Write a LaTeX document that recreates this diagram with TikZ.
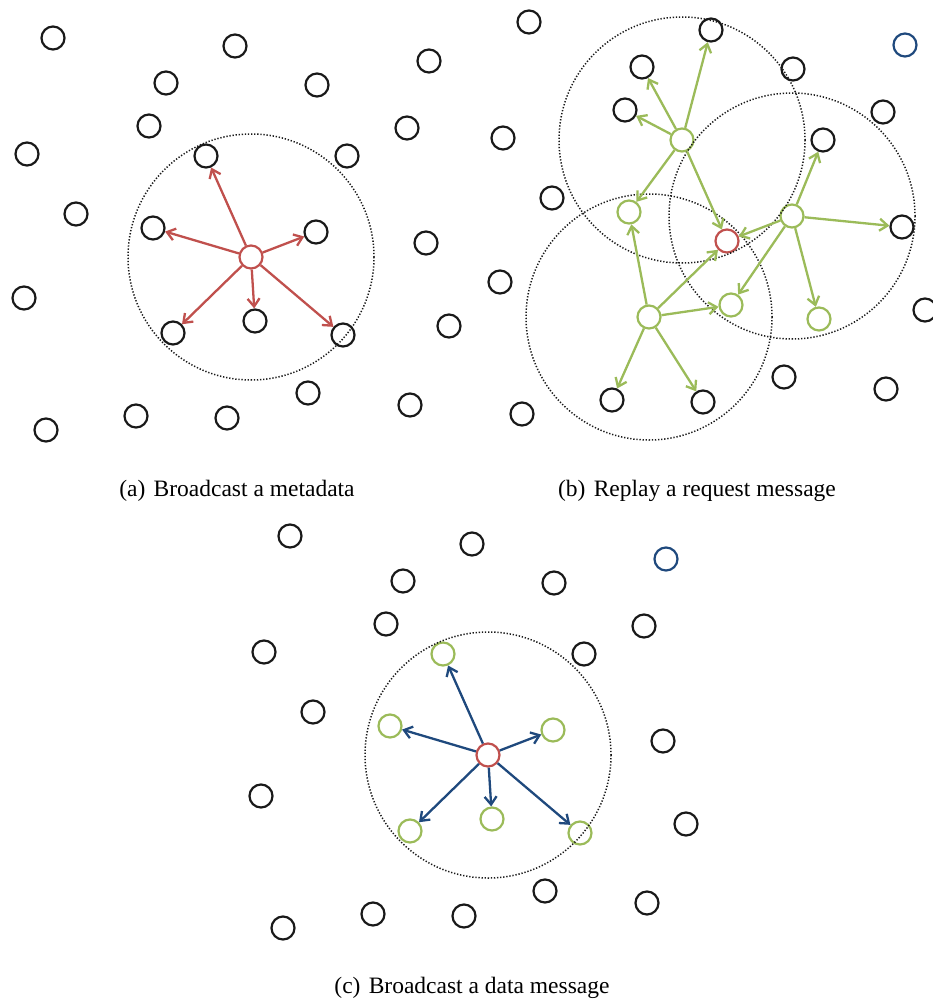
\documentclass[tikz,border=0pt]{standalone}
\usepackage{fontspec}
\setmainfont{Liberation Serif}
\usepackage{xcolor}
\definecolor{hopred}{RGB}{192,80,77}
\definecolor{hopgreen}{RGB}{155,187,89}
\definecolor{hopblue}{RGB}{31,73,125}
\usepackage{tikz}
\usetikzlibrary{arrows.meta}
\tikzset{
  peer/.style={draw=black!90, circle, line width=2.2pt, minimum size=23pt, inner sep=0pt},
  peer hop/.style={peer},
  peer src/.style={peer, draw=hopred},
  peer far/.style={peer},
  radio reach/.style={draw=black!90, line width=1.5pt, dash pattern=on 1.3pt off 1.8pt},
  link/.style={-{Straight Barb[length=8pt, width=12pt]}, line width=2.3pt},
  caption/.style={font=\fontsize{23.5}{28}\selectfont, inner sep=0pt},
}

% same field of peers in every panel
\newcommand\peerfield[1]{%
  \foreach \n/\x/\y/\kind in {1/53/38/peer, 2/235/46/peer, 3/429/61/peer far,
      4/166/83/peer, 5/317/85/peer, 6/149/126/peer, 7/407/128/peer,
      8/27/154/peer, 9/206/156/peer hop, 10/347/156/peer, 11/76/214/peer,
      12/153/228/peer hop, 13/316/232/peer hop, 14/426/243/peer,
      15/251/257/peer src, 16/24/298/peer, 17/255/321/peer hop,
      18/173/333/peer hop, 19/343/335/peer hop, 20/449/326/peer,
      21/308/393/peer, 22/410/405/peer, 23/136/416/peer, 24/227/418/peer,
      25/46/430/peer}
    \node[\kind] (#1\n) at (\x,\y) {};
}

\begin{document}
\begin{tikzpicture}[x=1pt, y=-1pt]
  \useasboundingbox (0,0) rectangle (933,1003);

  % (a) metadata broadcast
  \begin{scope}
    \peerfield{a}
    \draw[radio reach] (a15) circle[radius=123];
    \foreach \t in {9,12,13,17,18,19}
      \draw[link, hopred] (a15) -- (a\t);
  \end{scope}
  \node[caption] (capa) at (237,491) {(a)\hspace{0.35em}Broadcast a metadata};

  % (b) request replayed by the neighbours
  \begin{scope}[shift={(476,-16)}, peer hop/.style={peer, draw=hopgreen}, peer far/.style={peer, draw=hopblue}]
    \peerfield{b}
    \foreach \s in {9,13,18}
      \draw[radio reach] (b\s) circle[radius=123];
    \foreach \s/\t in {9/2, 9/4, 9/6, 9/12, 9/15, 13/10, 13/14, 13/15, 13/17, 13/19,
        18/12, 18/15, 18/17, 18/23, 18/24}
      \draw[link, hopgreen] (b\s) -- (b\t);
  \end{scope}
  \node[caption] (capb) at (697,491) {(b)\hspace{0.35em}Replay a request message};

  % (c) data broadcast
  \begin{scope}[shift={(237,498)}, peer hop/.style={peer, draw=hopgreen}, peer far/.style={peer, draw=hopblue}]
    \peerfield{c}
    \draw[radio reach] (c15) circle[radius=123];
    \foreach \t in {9,12,13,17,18,19}
      \draw[link, hopblue] (c15) -- (c\t);
  \end{scope}
  \node[caption] (capc) at (472,988) {(c)\hspace{0.35em}Broadcast a data message};
\end{tikzpicture}
\end{document}
